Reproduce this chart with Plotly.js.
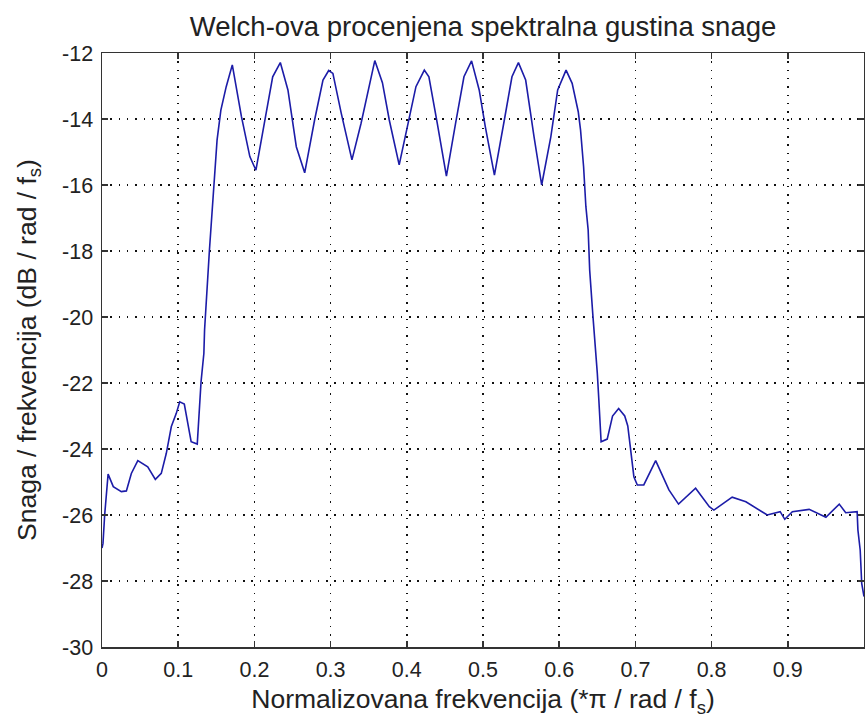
<!DOCTYPE html>
<html>
<head>
<meta charset="utf-8">
<script src="https://cdn.plot.ly/plotly-3.0.1.min.js"></script>
<style>html,body{margin:0;padding:0;background:#fff;}#chart{width:865px;height:722px;}</style>
</head>
<body>
<div id="chart"></div>
<script>
// Normalized frequency (x pi rad/sample)
const freq = [0.0, 0.0013, 0.0035, 0.006, 0.008, 0.0148, 0.0254, 0.032, 0.0385, 0.047, 0.060, 0.070, 0.0778, 0.0844, 0.091, 0.0975, 0.102, 0.108, 0.117, 0.125, 0.128, 0.130, 0.1337, 0.1346, 0.141, 0.147, 0.151, 0.156, 0.163, 0.171, 0.183, 0.194, 0.202, 0.213, 0.224, 0.234, 0.244, 0.255, 0.266, 0.279, 0.290, 0.2975, 0.303, 0.314, 0.328, 0.340, 0.351, 0.358, 0.368, 0.377, 0.390, 0.401, 0.412, 0.423, 0.429, 0.440, 0.452, 0.464, 0.475, 0.485, 0.495, 0.503, 0.515, 0.528, 0.538, 0.5465, 0.556, 0.567, 0.577, 0.589, 0.598, 0.609, 0.617, 0.625, 0.628, 0.632, 0.635, 0.638, 0.640, 0.644, 0.646, 0.648, 0.650, 0.652, 0.655, 0.663, 0.670, 0.678, 0.686, 0.690, 0.694, 0.698, 0.7025, 0.711, 0.7266, 0.744, 0.7566, 0.779, 0.797, 0.803, 0.827, 0.845, 0.873, 0.890, 0.896, 0.906, 0.928, 0.950, 0.9675, 0.976, 0.991, 0.992, 0.995, 0.997, 1.0];
// Power spectral density (dB / rad / fs)
const psd = [-27.0, -26.86, -26.0, -25.14, -24.76, -25.14, -25.29, -25.27, -24.74, -24.35, -24.54, -24.92, -24.74, -24.13, -23.32, -22.92, -22.57, -22.64, -23.78, -23.85, -22.72, -21.96, -21.1, -20.39, -17.97, -16.05, -14.64, -13.73, -13.02, -12.36, -13.93, -15.14, -15.55, -14.13, -12.72, -12.29, -13.12, -14.84, -15.63, -14.03, -12.82, -12.53, -12.62, -13.83, -15.24, -14.13, -12.92, -12.23, -12.9, -14.03, -15.39, -14.23, -13.02, -12.52, -12.72, -14.13, -15.73, -14.13, -12.72, -12.24, -13.12, -14.23, -15.70, -14.03, -12.72, -12.29, -12.82, -14.54, -16.0, -14.54, -13.12, -12.52, -12.92, -13.78, -14.33, -15.44, -16.65, -17.36, -18.58, -19.89, -20.5, -20.9, -21.7, -22.5, -23.78, -23.7, -23.0, -22.77, -23.0, -23.3, -24.03, -24.84, -25.09, -25.09, -24.35, -25.24, -25.67, -25.19, -25.75, -25.85, -25.46, -25.6, -26.0, -25.9, -26.13, -25.9, -25.83, -26.07, -25.67, -25.93, -25.9, -26.45, -27.06, -28.07, -28.47];
const xTicks = [0, 0.1, 0.2, 0.3, 0.4, 0.5, 0.6, 0.7, 0.8, 0.9, 1];
const xTickText = ['0', '0.1', '0.2', '0.3', '0.4', '0.5', '0.6', '0.7', '0.8', '0.9', '1'];
const yTicks = [-30, -28, -26, -24, -22, -20, -18, -16, -14, -12];
const yTickText = ['-30', '-28', '-26', '-24', '-22', '-20', '-18', '-16', '-14', '-12'];

const font = 'Liberation Sans, Arial, sans-serif';
const axisCommon = {
  showline: true, linecolor: '#333', linewidth: 1.5, mirror: 'ticks',
  ticks: 'inside', ticklen: 6, tickcolor: '#333', tickwidth: 1.5,
  showgrid: true, gridcolor: '#111', griddash: '1.5px,6.8px', gridwidth: 1.5,
  zeroline: false, ticklabelstandoff: 3, tickfont: {family: font, size: 21.5, color: '#222'}
};
const data = [{
  x: freq, y: psd, type: 'scatter', mode: 'lines',
  line: {color: '#1c1ca8', width: 1.6}
}];
const layout = {
  width: 865, height: 722,
  margin: {l: 102, r: 1, t: 53, b: 75},
  paper_bgcolor: '#fff', plot_bgcolor: '#fff',
  showlegend: false,
  title: {text: 'Welch-ova procenjena spektralna gustina snage', x: 0.5, xref: 'paper', xanchor: 'center', y: 1, yref: 'paper', yanchor: 'bottom', pad: {b: 17}, font: {family: font, size: 27.5, color: '#222'}},
  xaxis: Object.assign({}, axisCommon, {
    range: [0, 1], tickvals: xTicks, ticktext: xTickText,
    title: {text: 'Normalizovana frekvencija (*π / rad / f<sub>s</sub>)', standoff: 8, font: {family: font, size: 26.5, color: '#222'}}
  }),
  yaxis: Object.assign({}, axisCommon, {
    range: [-30, -12], tickvals: yTicks, ticktext: yTickText,
    title: {text: 'Snaga / frekvencija (dB / rad / f<sub>s</sub>)', standoff: 18, font: {family: font, size: 26.5, color: '#222'}}
  })
};
Plotly.newPlot('chart', data, layout, {displayModeBar: false, staticPlot: true});
</script>
</body>
</html>
